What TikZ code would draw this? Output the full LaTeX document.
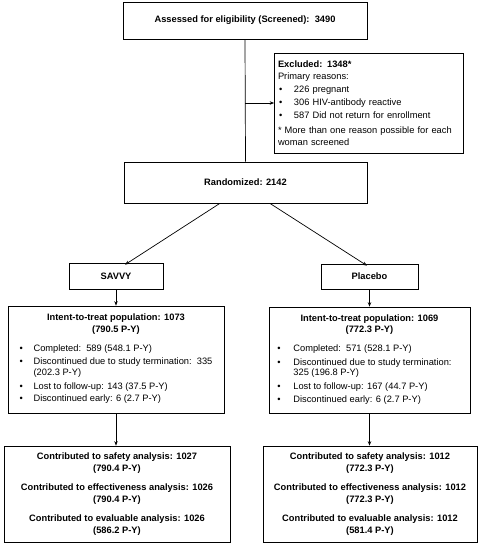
\documentclass[tikz,border=0pt]{standalone}
\usepackage{fontspec}
\setmainfont{Liberation Sans}
\usetikzlibrary{arrows.meta,calc}
\newcommand{\bt}{\textbullet}
\begin{document}
\begin{tikzpicture}[x=1pt,y=-1pt,
  box/.style={draw=black,line width=0.7pt,inner sep=0pt,font=\fontsize{9.3}{11.6}\selectfont,align=center},
  arr/.style={line width=0.7pt,-{Stealth[length=4.5pt,width=3.5pt]}},
  ln/.style={line width=0.7pt}]
\useasboundingbox (0,0) rectangle (478,543);
\node[box,minimum width=244pt,minimum height=37pt] (assess) at (245,20.5) {\textbf{Assessed for eligibility (Screened):\ \ 3490}};
\node[box,minimum width=189pt,minimum height=100pt,text width=182pt,align=left] (excl) at (369,103)
 {\textbf{Excluded: 1348*}\\
  Primary reasons:\\[2pt]
  \makebox[16pt][l]{\hspace{1pt}\bt}226 pregnant\\[1.5pt]
  \makebox[16pt][l]{\hspace{1pt}\bt}306 HIV-antibody reactive\\[1.5pt]
  \makebox[16pt][l]{\hspace{1pt}\bt}587 Did not return for enrollment\\[3pt]
  * More than one reason possible for each\\
  woman screened};
\node[box,minimum width=243pt,minimum height=41pt] (rand) at (245.5,182.5) {\textbf{Randomized: 2142}};
\node[box,minimum width=94pt,minimum height=26pt] (savvy) at (116,276) {\textbf{SAVVY}};
\node[box,minimum width=97pt,minimum height=25pt] (plac) at (369.5,276.5) {\textbf{Placebo}};
\node[box,minimum width=216pt,minimum height=107pt] (ittL) at (116,359.5)
 {\textbf{Intent-to-treat population: 1073}\\
  \textbf{(790.5 P-Y)}\\[8pt]
  \begin{tabular}{@{}p{14pt}@{}l@{}}
  \bt & Completed:\ \ 589 (548.1 P-Y)\\[2pt]
  \bt & Discontinued due to study termination:\ \ 335\\[-1pt]
      & (202.3 P-Y)\\[2pt]
  \bt & Lost to follow-up: 143 (37.5 P-Y)\\[1pt]
  \bt & Discontinued early: 6 (2.7 P-Y)
  \end{tabular}};
\node[box,minimum width=201pt,minimum height=106pt] (ittR) at (369.5,360)
 {\textbf{Intent-to-treat population: 1069}\\
  \textbf{(772.3 P-Y)}\\[8pt]
  \begin{tabular}{@{}p{16pt}@{}l@{}}
  \bt & Completed:\ \ 571 (528.1 P-Y)\\[2pt]
  \bt & Discontinued due to study termination:\\[-1pt]
      & 325 (196.8 P-Y)\\[2pt]
  \bt & Lost to follow-up: 167 (44.7 P-Y)\\[1pt]
  \bt & Discontinued early: 6 (2.7 P-Y)
  \end{tabular}\hspace*{10pt}};
\node[box,minimum width=226pt,minimum height=96pt] (contL) at (117,494)
 {\textbf{Contributed to safety analysis: 1027}\\
  \textbf{(790.4 P-Y)}\\[8pt]
  \textbf{Contributed to effectiveness analysis: 1026}\\
  \textbf{(790.4 P-Y)}\\[8pt]
  \textbf{Contributed to evaluable analysis: 1026}\\
  \textbf{(586.2 P-Y)}};
\node[box,minimum width=214pt,minimum height=96pt] (contR) at (370,494)
 {\textbf{Contributed to safety analysis: 1012}\\
  \textbf{(772.3 P-Y)}\\[8pt]
  \textbf{Contributed to effectiveness analysis: 1012}\\
  \textbf{(772.3 P-Y)}\\[8pt]
  \textbf{Contributed to evaluable analysis: 1012}\\
  \textbf{(581.4 P-Y)}};
\coordinate (br) at (assess.south |- excl.west);
\draw[ln] (assess.south) -- (rand.north);
\draw[arr] (br) -- (excl.west);
\draw[arr] ($(rand.south west)!0.395!(rand.south east)$) -- ([xshift=9pt,yshift=-2pt]savvy.north);
\draw[arr] ($(rand.south west)!0.6!(rand.south east)$) -- ([xshift=-2.5pt,yshift=-2pt]plac.north);
\draw[arr] (savvy.south) -- (savvy.south |- ittL.north);
\draw[arr] (plac.south) -- (plac.south |- ittR.north);
\draw[arr] (ittL.south) -- (ittL.south |- contL.north);
\draw[arr] (plac.south |- ittR.south) -- (plac.south |- contR.north);
\end{tikzpicture}
\end{document}
